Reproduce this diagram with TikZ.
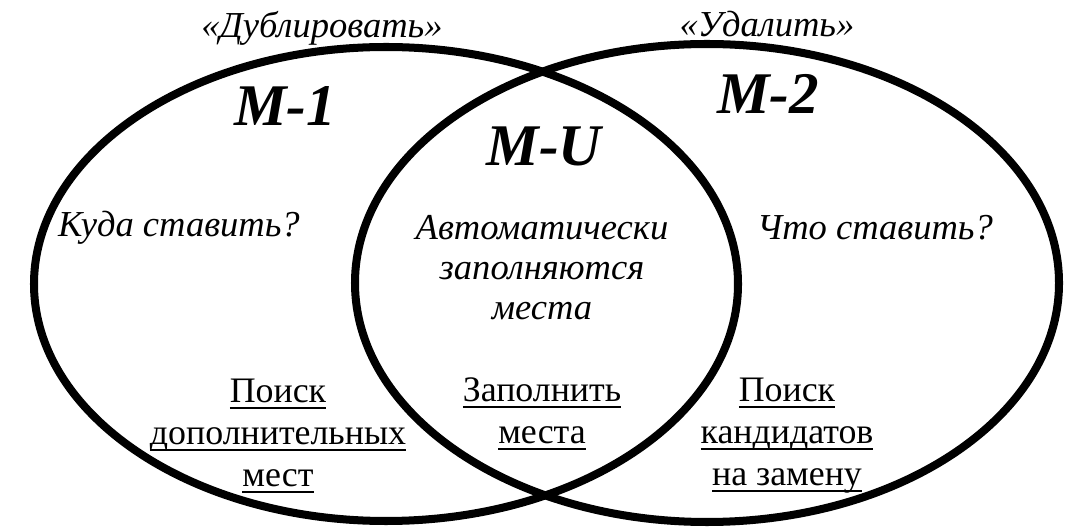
\documentclass[tikz,border=0pt]{standalone}
\usepackage{fontspec}
\setmainfont{Liberation Serif}
\usepackage{tikz}

\newsavebox{\linebox}
\newcommand{\lined}[1]{\sbox{\linebox}{#1}\rlap{\rule[-4.2pt]{\wd\linebox}{1.4pt}}\usebox{\linebox}}

\tikzset{
  setline/.style={line width=5.7pt},
  setname/.style={font=\fontsize{42}{46}\selectfont\bfseries\itshape},
  note/.style={font=\fontsize{26}{28.5}\selectfont\itshape,align=center},
  task/.style={font=\fontsize{25.5}{29.8}\selectfont,align=center}
}

\begin{document}
\begin{tikzpicture}
  \useasboundingbox (0,0) rectangle (27.1,-13.175);
  \draw[setline] (9.65,-7.1) ellipse [x radius=8.8,y radius=5.925];
  \draw[setline] (17.675,-7.075) ellipse [x radius=8.8,y radius=5.975];
  \node[note] (dub) at (8.05,-0.7) {«Дублировать»};
  \node[note] (del) at (19.175,-0.6) {«Удалить»};
  \node[setname] (m1) at (7.125,-2.65) {M-1};
  \node[setname] (mu) at (13.6,-3.65) {M-U};
  \node[setname] (m2) at (19.2,-2.35) {M-2};
  \node[note] (kuda) at (4.475,-5.7) {Куда ставить?};
  \node[note] (auto) at (13.55,-6.7) {Автоматически\\заполняются\\места};
  \node[note] (chto) at (21.875,-5.7) {Что ставить?};
  \node[task] (find1) at (6.95,-10.9) {\lined{Поиск}\\\lined{дополнительных}\\\lined{мест}};
  \node[task] (fill) at (13.55,-10.35) {\lined{Заполнить}\\\lined{места}};
  \node[task] (find2) at (19.675,-10.9) {\lined{Поиск}\\\lined{кандидатов}\\\lined{на замену}};
\end{tikzpicture}
\end{document}
